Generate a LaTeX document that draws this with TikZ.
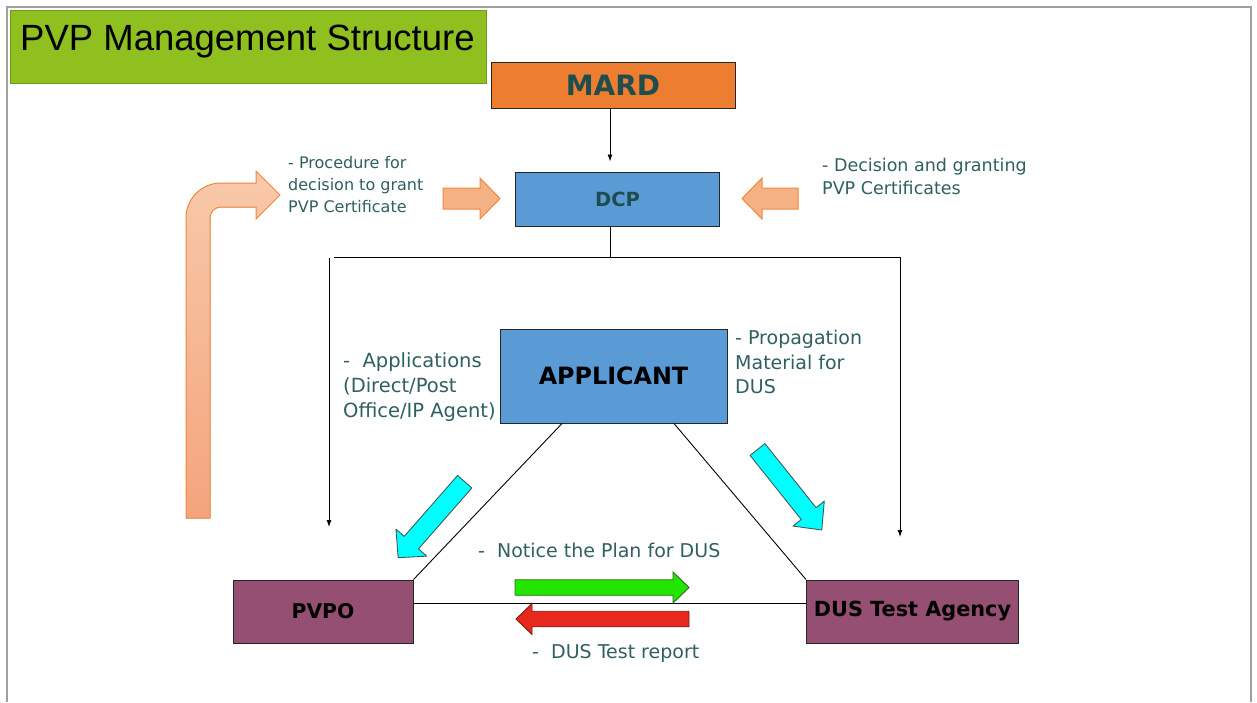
\documentclass[tikz,border=0pt]{standalone}
\usepackage{fontspec}
\setmainfont{DejaVu Sans}
\newfontfamily\arialf{Liberation Sans}
\usetikzlibrary{arrows.meta}
\definecolor{titlegreen}{HTML}{90C020}
\definecolor{titleborder}{HTML}{6E9A1A}
\definecolor{mardorange}{HTML}{ED7D31}
\definecolor{boxblue}{HTML}{5B9BD5}
\definecolor{boxpurple}{HTML}{954F72}
\definecolor{tealtext}{HTML}{2F5F60}
\definecolor{darkteal}{HTML}{1E4D4E}
\definecolor{peach}{HTML}{F4B183}
\definecolor{peachlight}{HTML}{F8C9AA}
\definecolor{peachdark}{HTML}{F4A47C}
\definecolor{peachborder}{HTML}{F0883E}
\definecolor{cyanfill}{HTML}{00FFFF}
\definecolor{cyanborder}{HTML}{3D5C5C}
\definecolor{greenfill}{HTML}{22E600}
\definecolor{greenborder}{HTML}{2C6B1A}
\definecolor{redfill}{HTML}{E8281C}
\definecolor{redborder}{HTML}{7A1E14}
\definecolor{framegray}{HTML}{A0A0A0}
\newcommand\blockarr[8]{%
  \begin{scope}[shift={(#2,#3)},rotate=#4]
    \draw[#1] (0,-#6/2) -- (#5-#8,-#6/2) -- (#5-#8,-#7/2) -- (#5,0)
      -- (#5-#8,#7/2) -- (#5-#8,#6/2) -- (0,#6/2) -- cycle;
  \end{scope}}
\begin{document}
\begin{tikzpicture}[x=1pt,y=-1pt,
  box/.style={draw=black!85, line width=1pt, inner sep=0pt},
  lbl/.style={text=tealtext, inner sep=0pt, align=left, anchor=west},
  conn/.style={draw=black, line width=0.9pt},
  arr/.style={conn, -{Latex[length=7pt,width=5pt]}},
  peacharrow/.style={fill=peach, draw=peachborder, line width=1pt},
  cyanarrow/.style={fill=cyanfill, draw=cyanborder, line width=0.9pt, line join=round},
  greenarrow/.style={fill=greenfill, draw=greenborder, line width=0.9pt},
  redarrow/.style={fill=redfill, draw=redborder, line width=0.9pt}]
\useasboundingbox (0,0) rectangle (1257,702);
% frame
\draw[framegray, line width=1.2pt] (7,702) -- (7,7) -- (1251,7) -- (1251,702);
% title
\node[fill=titlegreen, draw=titleborder, line width=0.8pt, minimum width=476pt, minimum height=73pt, anchor=north west, inner sep=0pt] (titlebox) at (10,10) {};
\node[font=\arialf\fontsize{36.5}{36.5}\selectfont, anchor=base west, inner sep=0pt] (titletext) at (20,50) {PVP Management Structure};
% boxes
\node[box, fill=mardorange, minimum width=244pt, minimum height=46pt, text=darkteal, font=\bfseries\fontsize{28}{30}\selectfont] (mard) at (613,85) {MARD};
\node[box, fill=boxblue, minimum width=204pt, minimum height=54pt, text=darkteal, font=\bfseries\fontsize{19.5}{22}\selectfont] (dcp) at (617.5,199) {DCP};
\node[box, fill=boxblue, minimum width=227pt, minimum height=94pt, font=\bfseries\fontsize{23.8}{26}\selectfont] (app) at (613.5,376) {APPLICANT};
\node[box, fill=boxpurple, minimum width=180pt, minimum height=63pt, font=\bfseries\fontsize{20.3}{24}\selectfont] (pvpo) at (323,611.5) {PVPO};
\node[box, fill=boxpurple, minimum width=212pt, minimum height=63pt, font=\bfseries\fontsize{20.8}{24}\selectfont] (dus) at (912.5,611.5) {DUS Test Agency};
% connectors
\draw[arr] ([xshift=-3pt]mard.south) -- ([xshift=-7.5pt,yshift=10pt]dcp.north);
\draw[conn] ([xshift=-7.5pt]dcp.south) -- ++(0,31) coordinate (tj);
\coordinate (hl) at (334,257);
\coordinate (hr) at (900,257);
\coordinate (vl) at (329,258);
\coordinate (dl) at (329,527);
\coordinate (dr) at (900,537);
\draw[conn] (hl) -- (hr);
\draw[arr] (vl) -- (dl);
\draw[arr] (hr) -- (dr);
\draw[conn] ([xshift=-51.5pt]app.south) -- (pvpo.north east);
\draw[conn] ([xshift=60.5pt]app.south) -- (dus.north west);
\draw[conn] ([yshift=8.5pt]pvpo.east) -- ([yshift=8.5pt]dus.west);
% block arrows
\draw[fill, top color=peachlight, bottom color=peachdark, draw=peachborder, line width=1pt]
  (186,518) -- (186,218) arc[start angle=180, end angle=90, radius=35pt]
  -- (256,183) -- (256,171) -- (280,195) -- (256,219) -- (256,207) -- (221,207)
  arc[start angle=90, end angle=180, radius=11pt] -- (210,518) -- cycle;
\blockarr{peacharrow}{443}{198.5}{0}{57}{21}{41}{20}
\blockarr{peacharrow}{798}{198.5}{180}{56}{21}{41}{20}
\blockarr{cyanarrow}{464.7}{481.7}{228.8}{101}{19}{41}{20}
\blockarr{cyanarrow}{757.5}{449.5}{-51.4}{103}{19}{40}{21}
\blockarr{greenarrow}{515}{587.5}{0}{174}{15.5}{31}{16}
\blockarr{redarrow}{689}{619}{180}{173}{15.5}{31}{16}
% labels
\node[lbl, font=\fontsize{16}{22}\selectfont] (lproc) at (288,185) {- Procedure for\\decision to grant\\PVP Certificate};
\node[lbl, font=\fontsize{17.5}{23}\selectfont] (ldec) at (822,176.5) {- Decision and granting\\PVP Certificates};
\node[lbl, font=\fontsize{19.5}{25}\selectfont] (lappl) at (343,386.7) {-~ Applications\\(Direct/Post\\Office/IP Agent)};
\node[lbl, font=\fontsize{19}{24.5}\selectfont] (lprop) at (735,362) {- Propagation\\Material for\\DUS};
\node[lbl, font=\fontsize{19}{24}\selectfont] (lnot) at (478,550.7) {-~ Notice the Plan for DUS};
\node[lbl, font=\fontsize{19}{24}\selectfont] (lrep) at (532,653) {-~ DUS Test report};
\end{tikzpicture}
\end{document}
